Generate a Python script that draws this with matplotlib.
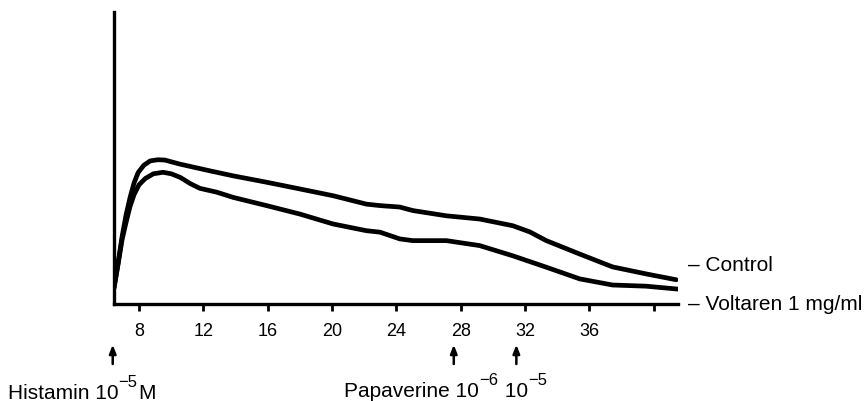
import matplotlib
matplotlib.use("Agg")
import matplotlib.pyplot as plt
import matplotlib.transforms as mtransforms

plt.rcParams["font.family"] = ["Liberation Sans", "DejaVu Sans"]

# time (min) vs. tension (arbitrary units)
control_t = [6.45, 6.7, 6.95, 7.2, 7.45, 7.7, 7.95, 8.3, 8.7, 9.18, 9.6, 10.55,
             12.41, 13.84, 15.93, 18.0, 20.05, 22.14, 22.98, 24.21, 25.02, 27.11,
             29.18, 31.24, 32.29, 33.32, 35.4, 37.44, 39.53, 41.4]
control_y = [5.5, 14.0, 23.0, 30.5, 36.5, 41.5, 45.0, 47.5, 49.0, 49.4, 49.3, 47.9,
             45.6, 43.9, 41.7, 39.4, 37.1, 34.2, 33.7, 33.2, 32.0, 30.2,
             29.1, 26.8, 24.7, 21.7, 17.1, 12.7, 10.3, 8.3]

voltaren_t = [6.45, 6.7, 6.95, 7.2, 7.45, 7.7, 8.0, 8.4, 8.9, 9.5, 10.0, 10.55,
              11.2, 11.79, 12.83, 13.86, 15.93, 18.0, 20.07, 22.14, 22.98, 24.21,
              25.02, 27.11, 29.18, 31.24, 33.32, 35.4, 37.44, 39.53, 41.5]
voltaren_y = [5.5, 13.5, 22.0, 28.0, 33.5, 37.5, 40.8, 43.0, 44.6, 45.1, 44.6, 43.4,
              41.2, 39.6, 38.3, 36.5, 33.7, 30.8, 27.4, 25.1, 24.6, 22.3,
              21.7, 21.7, 20.0, 16.5, 12.6, 8.6, 6.5, 6.1, 5.1]

tick_pos = [8, 12, 16, 20, 24, 28, 32, 36, 40]
tick_labels = ["8", "12", "16", "20", "24", "28", "32", "36", ""]

# drug additions (min)
arrow_times = [6.37, 27.57, 31.46]

fig = plt.figure(figsize=(8.67, 4.02), dpi=100)
ax = fig.add_axes([0.1315, 0.2413, 0.650, 0.7264])

ax.plot(control_t, control_y, color="black", lw=3.4, solid_capstyle="round",
        solid_joinstyle="round")
ax.plot(voltaren_t, voltaren_y, color="black", lw=3.4, solid_capstyle="round",
        solid_joinstyle="round")

ax.set_xlim(6.45, 41.48)
ax.set_ylim(0, 100)
ax.set_xticks(tick_pos)
ax.set_xticklabels(tick_labels, fontsize=13)
ax.set_yticks([])
ax.tick_params(axis="x", direction="out", length=5, width=2, pad=8)

for side in ["top", "right"]:
    ax.spines[side].set_visible(False)
for side in ["left", "bottom"]:
    ax.spines[side].set_linewidth(2.4)

ax.text(1.018, 0.134, "– Control", transform=ax.transAxes, fontsize=15,
        va="center", ha="left")
ax.text(1.018, 0.0, "– Voltaren 1 mg/ml", transform=ax.transAxes, fontsize=15,
        va="center", ha="left")

# arrows below the time axis
trans = mtransforms.blended_transform_factory(ax.transData, ax.transAxes)
for t in arrow_times:
    ax.annotate("", xy=(t, -0.130), xytext=(t, -0.215), xycoords=trans,
                textcoords=trans,
                arrowprops=dict(arrowstyle="-|>,head_length=0.5,head_width=0.2",
                                color="black", lw=1.8))


# labels with big superscripts, drawn piece by piece
renderer = fig.canvas.get_renderer()


def label(x_px, base_px, parts):
    x = x_px
    for s, sup in parts:
        size = 12 if sup else 15
        y = base_px - (12 if sup else 0)
        t = fig.text(x / 867, 1 - y / 402, s, fontsize=size,
                     va="baseline", ha="left")
        x += t.get_window_extent(renderer).width + (1 if sup else 0)


label(8, 399, [("Histamin 10", False), ("−5", True), ("M", False)])
label(344, 397, [("Papaverine 10", False), ("−6", True), (" 10", False),
                 ("−5", True)])

fig.savefig("out.png", dpi=100)
